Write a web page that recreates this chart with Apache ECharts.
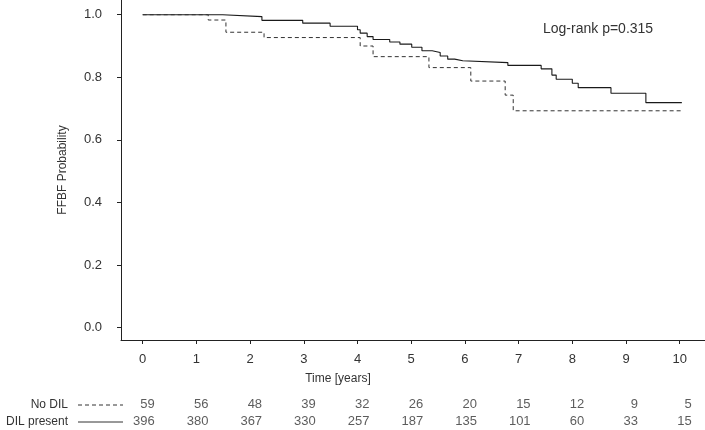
<!DOCTYPE html>
<html>
<head>
<meta charset="utf-8">
<script src="https://cdn.jsdelivr.net/npm/echarts@6/dist/echarts.min.js"></script>
<style>
html,body{margin:0;padding:0;background:#fff;}
#chart{width:705px;height:430px;}
</style>
</head>
<body>
<div id="chart"></div>
<script>
// Kaplan-Meier step data (time in years, survival probability after the step)
const dilTimes = [0,1.49,2.22,2.98,3.49,4.00,4.05,4.18,4.29,4.60,4.79,5.01,5.20,5.39,5.54,5.68,5.81,5.96,6.80,7.42,7.62,7.70,8.00,8.11,8.72,9.37,10.04];
const dilSurv  = [1,0.994,0.982,0.973,0.963,0.952,0.941,0.930,0.921,0.913,0.906,0.896,0.885,0.879,0.868,0.858,0.853,0.847,0.838,0.827,0.807,0.794,0.781,0.767,0.749,0.719,0.719];
const noDilTimes = [0,1.22,1.55,2.26,4.05,4.29,5.33,6.11,6.75,6.90,10.04];
const noDilSurv  = [1,0.983,0.944,0.927,0.900,0.866,0.831,0.788,0.743,0.693,0.693];

const xTicks = [0,1,2,3,4,5,6,7,8,9,10];
const yTicks = [0,0.2,0.4,0.6,0.8,1.0];
const riskTimes = [0,1,2,3,4,5,6,7,8,9,10];
const riskNoDil = [59,56,48,39,32,26,20,15,12,9,5];
const riskDil   = [396,380,367,330,257,187,135,101,60,33,15];
const rowNames = ['No DIL','DIL present'];

const FONT = '"Liberation Sans", Arial, sans-serif';
const TXT = '#333';

const chart = echarts.init(document.getElementById('chart'), null, {renderer:'canvas'});

function pairs(xs, ys){ return xs.map((x,i)=>[x, ys[i]]); }

const option = {
  animation:false,
  backgroundColor:'#fff',
  textStyle:{fontFamily:FONT},
  grid:[
    {left:121, right:0, top:0, bottom:90},
    {left:121, right:0, top:396, height:34}
  ],
  xAxis:[
    {gridIndex:0, type:'value', min:-0.404, max:10.471,
     axisLine:{show:true, onZero:false, lineStyle:{color:'#222', width:1}},
     axisTick:{show:true, length:4, customValues:xTicks, lineStyle:{color:'#222'}},
     axisLabel:{show:true, customValues:xTicks, margin:13, fontSize:13, color:TXT, fontFamily:FONT},
     splitLine:{show:false}},
    {gridIndex:1, type:'value', min:-0.404, max:10.471, show:false}
  ],
  yAxis:[
    {gridIndex:0, type:'value', min:-0.0394, max:1.047,
     axisLine:{show:true, onZero:false, lineStyle:{color:'#222', width:1}},
     axisTick:{show:true, length:4, customValues:yTicks, lineStyle:{color:'#222'}},
     axisLabel:{show:true, customValues:yTicks, margin:19, fontSize:13, color:TXT, fontFamily:FONT,
       formatter:v=>v.toFixed(1)},
     splitLine:{show:false},
     name:'FFBF Probability', nameLocation:'middle', nameGap:52, nameRotate:90,
     nameTextStyle:{fontSize:12, color:TXT, fontFamily:FONT}},
    {gridIndex:1, type:'category', data:rowNames, inverse:true, show:false}
  ],
  series:[
    {type:'line', name:'DIL present', xAxisIndex:0, yAxisIndex:0, step:'end', symbol:'none',
     data:pairs(dilTimes, dilSurv), lineStyle:{color:'#1a1a1a', width:1.1}, z:2},
    {type:'line', name:'No DIL', xAxisIndex:0, yAxisIndex:0, step:'end', symbol:'none',
     data:pairs(noDilTimes, noDilSurv), lineStyle:{color:'#333', width:1, type:[4,3]}, z:3},
    {type:'scatter', xAxisIndex:1, yAxisIndex:1, symbolSize:0,
     data:riskTimes.map((t,i)=>[t, rowNames[0], riskNoDil[i]]),
     label:{show:true, position:'inside', align:'right', offset:[12,0], formatter:p=>p.value[2],
       fontSize:13, color:TXT, fontFamily:FONT}},
    {type:'scatter', xAxisIndex:1, yAxisIndex:1, symbolSize:0,
     data:riskTimes.map((t,i)=>[t, rowNames[1], riskDil[i]]),
     label:{show:true, position:'inside', align:'right', offset:[12,0], formatter:p=>p.value[2],
       fontSize:13, color:TXT, fontFamily:FONT}}
  ],
  graphic:[
    {type:'text', left:543, top:22, style:{text:'Log-rank p=0.315', font:'14px '+FONT, fill:TXT}},
    {type:'text', x:338, y:379, style:{text:'Time [years]', font:'12px '+FONT, fill:TXT, textAlign:'center', textVerticalAlign:'middle'}},
    {type:'text', x:68, y:405, style:{text:rowNames[0], font:'12px '+FONT, fill:TXT, textAlign:'right', textVerticalAlign:'middle'}},
    {type:'text', x:68, y:422, style:{text:rowNames[1], font:'12px '+FONT, fill:TXT, textAlign:'right', textVerticalAlign:'middle'}},
    {type:'line', shape:{x1:78, y1:405, x2:123, y2:405}, style:{stroke:'#333', lineWidth:1, lineDash:[4,3]}},
    {type:'line', shape:{x1:78, y1:422, x2:123, y2:422}, style:{stroke:'#333', lineWidth:1}}
  ]
};
chart.setOption(option);
</script>
</body>
</html>
